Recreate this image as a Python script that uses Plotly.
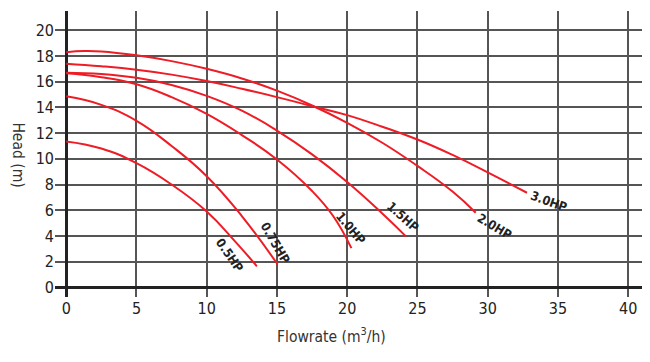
import plotly.graph_objects as go

# Pump curves: flowrate (m3/h) vs head (m)
hp05_x = [0, 2.5, 5, 7.5, 10, 12, 13.57]
hp05_y = [11.35, 10.8, 9.66, 8.0, 5.9, 3.6, 1.64]

hp075_x = [0, 2.5, 5, 7.5, 10, 12.5, 15.05]
hp075_y = [14.86, 14.2, 12.96, 11.0, 8.65, 5.55, 1.78]

hp10_x = [0, 2.5, 5, 7.5, 10, 12.5, 15, 17.5, 19, 20.3]
hp10_y = [16.65, 16.35, 15.8, 14.8, 13.5, 11.85, 9.95, 7.5, 5.55, 3.05]

hp15_x = [0, 2.5, 5, 7.5, 10, 12.5, 15, 17.5, 20, 22.5, 24.2]
hp15_y = [16.7, 16.6, 16.3, 15.75, 14.9, 13.75, 12.2, 10.35, 8.2, 5.75, 3.95]

hp20_x = [0, 1.25, 2.5, 5, 7.5, 10, 12.5, 15, 17.5, 20, 22.5, 25, 27.5, 29.15]
hp20_y = [18.3, 18.38, 18.35, 18.05, 17.6, 17.0, 16.25, 15.3, 14.15, 12.8, 11.25, 9.45, 7.45, 5.8]

hp30_x = [0, 2.5, 5, 7.5, 10, 12.5, 15, 17.5, 20, 22.5, 25, 27.5, 30, 32.8]
hp30_y = [17.4, 17.2, 16.93, 16.55, 16.05, 15.45, 14.8, 14.1, 13.4, 12.5, 11.5, 10.3, 8.95, 7.36]

labels = ["0.5HP", "0.75HP", "1.0HP", "1.5HP", "2.0HP", "3.0HP"]
label_x = [11.67, 14.88, 20.3, 23.95, 30.53, 34.4]
label_y = [2.5, 3.5, 4.6, 5.48, 4.77, 6.65]
label_angle = [55, 60, 50, 42, 31, 20]

x_ticks = [0, 5, 10, 15, 20, 25, 30, 35, 40]
y_ticks = [0, 2, 4, 6, 8, 10, 12, 14, 16, 18, 20]

FONT = "Liberation Sans Narrow, DejaVu Sans Condensed, Arial Narrow, sans-serif"
RED = "#ee1c25"

fig = go.Figure()
for xs, ys in [(hp05_x, hp05_y), (hp075_x, hp075_y), (hp10_x, hp10_y),
               (hp15_x, hp15_y), (hp20_x, hp20_y), (hp30_x, hp30_y)]:
    fig.add_trace(go.Scatter(x=xs, y=ys, mode="lines",
                             line=dict(color=RED, width=2, shape="spline", smoothing=1.3),
                             showlegend=False, hoverinfo="skip"))

for t, lx, ly, ang in zip(labels, label_x, label_y, label_angle):
    fig.add_annotation(x=lx, y=ly, text="<b>%s</b>" % t, showarrow=False,
                       textangle=ang, font=dict(family=FONT, size=12.5, color="#222222"))

fig.add_annotation(xref="paper", yref="paper", x=0.469, y=-0.177,
                   text="Flowrate (m<sup>3</sup>/h)", showarrow=False,
                   font=dict(family=FONT, size=15.5, color="#333333"))
fig.add_annotation(xref="paper", yref="paper", x=-0.082, y=0.4965,
                   text="Head (m)", showarrow=False, textangle=90,
                   font=dict(family=FONT, size=15.5, color="#333333"))

fig.update_xaxes(range=[-0.8, 41.2], tickvals=x_ticks, ticktext=[str(v) for v in x_ticks],
                 showgrid=True, gridcolor="#555555", gridwidth=1.5,
                 zeroline=True, zerolinecolor="#222222", zerolinewidth=2.5,
                 showline=False, ticks="", automargin=False,
                 tickfont=dict(family=FONT, size=16, color="#222222"),
                 fixedrange=True)
fig.update_yaxes(range=[-0.75, 21.5], tickvals=y_ticks, ticktext=[str(v) for v in y_ticks],
                 showgrid=True, gridcolor="#555555", gridwidth=1.5,
                 zeroline=True, zerolinecolor="#222222", zerolinewidth=2.5,
                 showline=False, ticks="", automargin=False,
                 tickfont=dict(family=FONT, size=16, color="#222222"),
                 fixedrange=True)

# margins compensate for the page's default 8px body margin
fig.update_layout(width=650, height=362, margin=dict(l=47, r=13, t=3, b=73),
                  plot_bgcolor="white", paper_bgcolor="white", showlegend=False)

fig.write_html("out.html")
